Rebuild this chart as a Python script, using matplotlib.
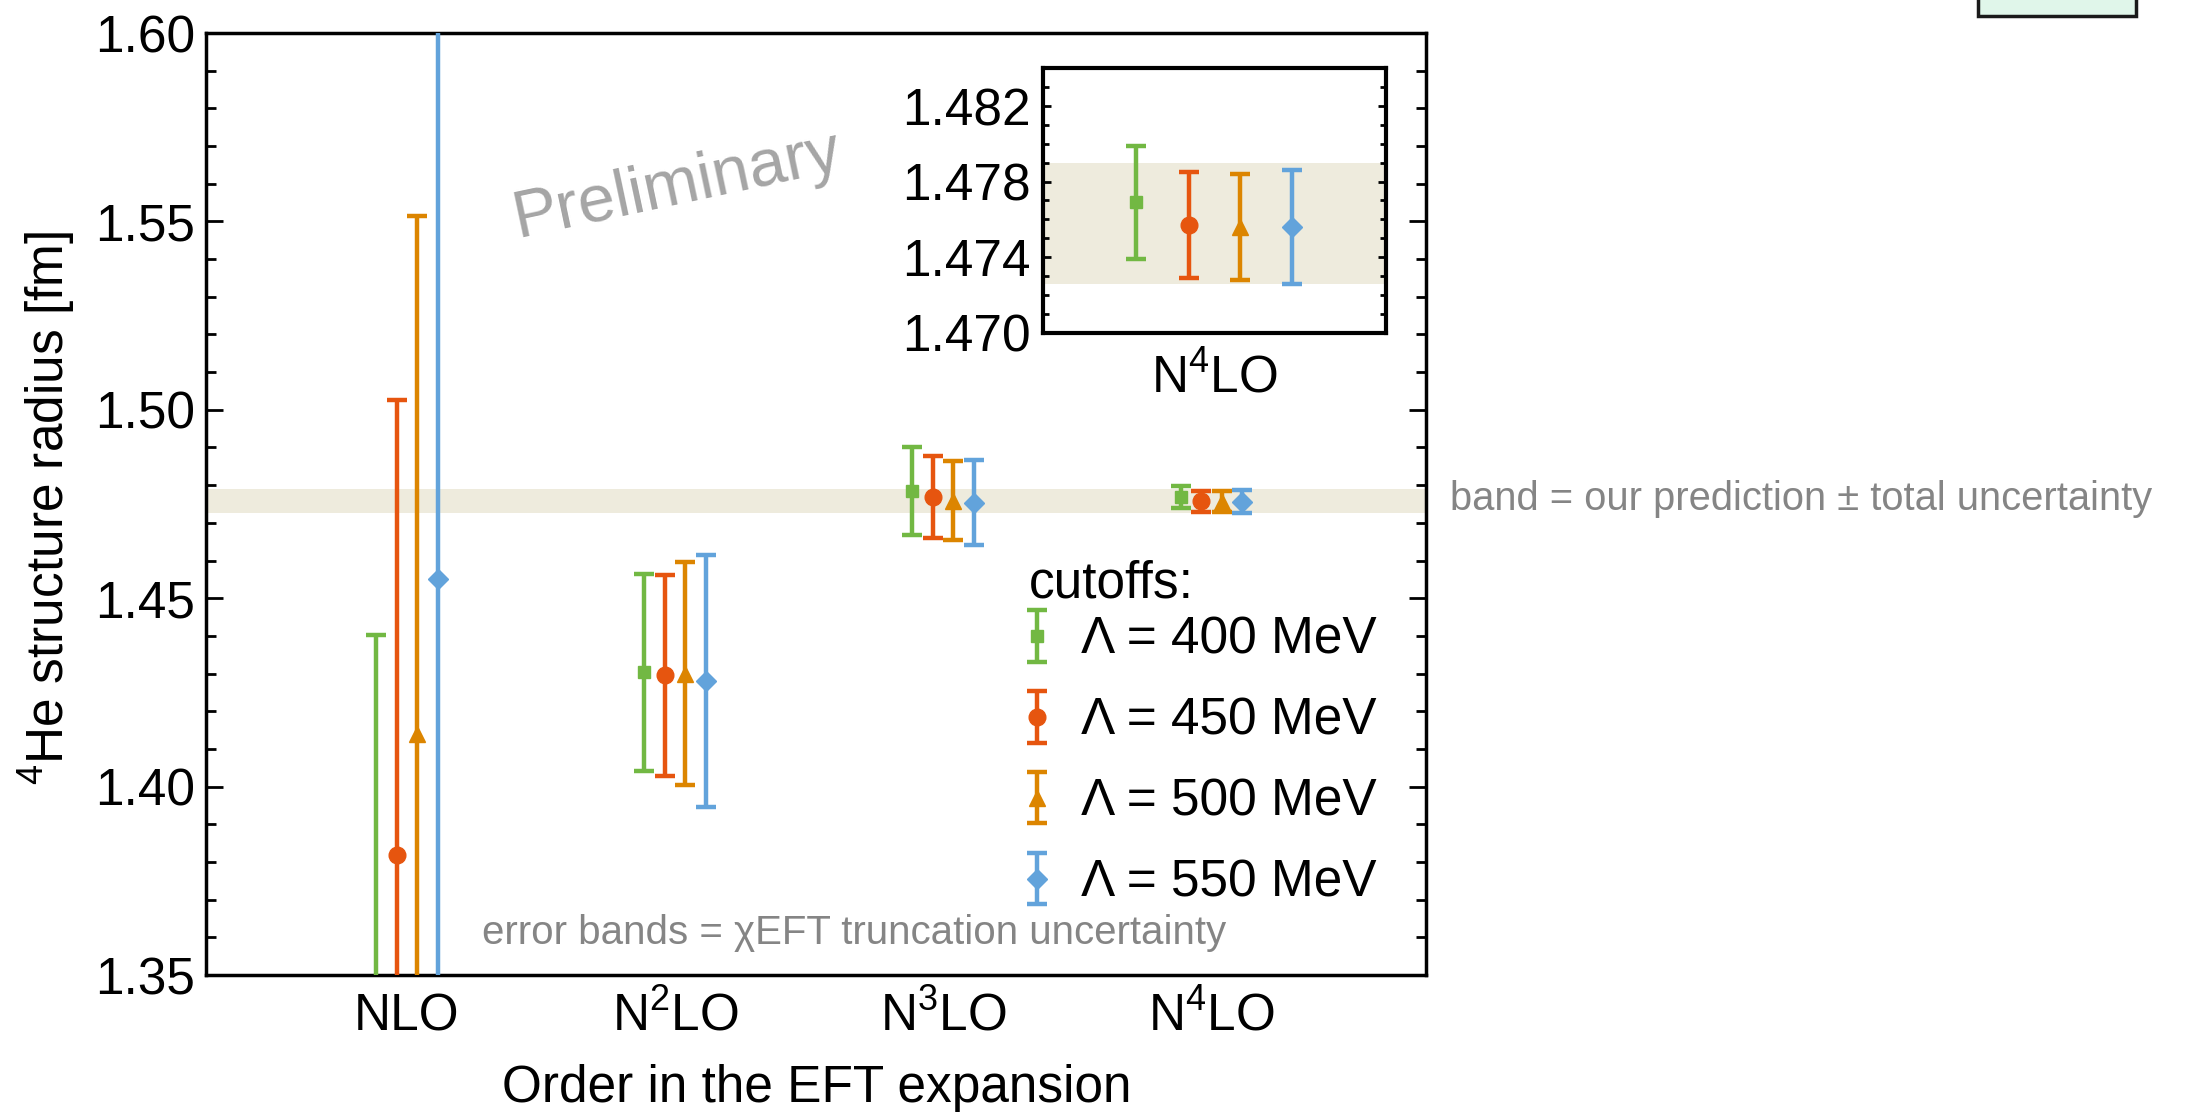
import matplotlib
matplotlib.use("Agg")
import matplotlib.pyplot as plt
from matplotlib.ticker import MultipleLocator, FixedLocator, FormatStrFormatter
from matplotlib.patches import Rectangle

plt.rcParams['font.family'] = ['Liberation Sans', 'DejaVu Sans']
plt.rcParams['mathtext.default'] = 'regular'

# orders of the EFT expansion
orders = ["NLO", "N$^2$LO", "N$^3$LO", "N$^4$LO"]
order_pos = [1, 2, 3, 4]

# radius values and truncation errors per cutoff
cutoff_labels = ["Λ = 400 MeV", "Λ = 450 MeV", "Λ = 500 MeV", "Λ = 550 MeV"]
r400 = [1.3380, 1.4303, 1.4785, 1.4769]
e400 = [0.1023, 0.0262, 0.0117, 0.0030]
r450 = [1.3819, 1.4295, 1.4768, 1.4757]
e450 = [0.1207, 0.0267, 0.0109, 0.0028]
r500 = [1.4140, 1.4300, 1.4759, 1.4756]
e500 = [0.1375, 0.0296, 0.0105, 0.0028]
r550 = [1.4552, 1.4281, 1.4754, 1.4756]
e550 = [0.1600, 0.0334, 0.0114, 0.0030]

# prediction band
band_lo = 1.4726
band_hi = 1.4790

series = [(r400, e400), (r450, e450), (r500, e500), (r550, e550)]
colors = ['#72B843', '#E6550F', '#DC8500', '#62A3DB']
markers = ['s', 'o', '^', 'D']
msizes = [9, 12, 12, 10]
offsets = [-0.115, -0.038, 0.038, 0.115]
band_color = '#EEEBDD'
fs = 37

fig = plt.figure(figsize=(21.86, 11.12), dpi=100)
ax = fig.add_axes([0.0942, 0.1232, 0.5581, 0.8471])

ax.axhspan(band_lo, band_hi, color=band_color, lw=0, zorder=0)

handles = []
for (vals, errs), c, m, ms, off, lab in zip(series, colors, markers, msizes, offsets, cutoff_labels):
    xs = [p + off for p in order_pos]
    h = ax.errorbar(xs, vals, yerr=errs, fmt=m, color=c, ms=ms,
                    elinewidth=3.2, capsize=7.5, capthick=3.2, label=lab, zorder=3)
    handles.append(h)

ax.set_xlim(0.25, 4.8)
ax.set_ylim(1.35, 1.60)
ax.yaxis.set_major_locator(MultipleLocator(0.05))
ax.yaxis.set_minor_locator(MultipleLocator(0.01))
ax.yaxis.set_major_formatter(FormatStrFormatter('%.2f'))
ax.tick_params(axis='y', which='both', direction='in', left=True, right=True,
               width=2, labelsize=fs, pad=8)
ax.tick_params(axis='y', which='major', length=12)
ax.tick_params(axis='y', which='minor', length=7)
ax.set_xticks(order_pos, orders)
ax.tick_params(axis='x', length=0, labelsize=fs, pad=40)
for lbl in ax.get_xticklabels():
    lbl.set_va('baseline')
for s in ax.spines.values():
    s.set_linewidth(2.5)

ax.set_xlabel("Order in the EFT expansion", fontsize=fs)
ax.xaxis.set_label_coords(0.501, -0.094)
ax.set_ylabel("$^4$He structure radius [fm]", fontsize=fs)
ax.yaxis.set_label_coords(-0.105, 0.496)

ax.text(0.226, 0.0446, "error bands = χEFT truncation uncertainty", transform=ax.transAxes,
        fontsize=29, color='#858585', va='center', ha='left')
ax.text(0.386, 0.838, "Preliminary", transform=ax.transAxes, fontsize=48,
        color='#A5A5A5', rotation=12, ha='center', va='center')

fig.text(1450 / 2186, 1 - 499 / 1112, "band = our prediction ± total uncertainty",
         fontsize=28.7, color='#858585', va='center', ha='left')

# legend
fig.text(1029 / 2186, 1 - 597 / 1112, "cutoffs:", fontsize=fs, va='baseline', ha='left')
ax.legend(handles=handles, loc='upper left', bbox_to_anchor=(1022 / 2186, 1 - 616 / 1112),
          bbox_transform=fig.transFigure, frameon=False, fontsize=fs, borderpad=0,
          borderaxespad=0, handlelength=0.6, handletextpad=0.55, labelspacing=0.62,
          numpoints=1)

# inset zoomed on N4LO
axi = fig.add_axes([0.4771, 0.7008, 0.1569, 0.2378])
axi.axhspan(band_lo, band_hi, color=band_color, lw=0, zorder=0)
for (vals, errs), c, m, ms, off in zip(series, colors, markers, msizes, offsets):
    axi.errorbar(order_pos[3] + off, vals[3], yerr=errs[3], fmt=m, color=c, ms=ms,
                 elinewidth=3.2, capsize=7.5, capthick=3.2, zorder=3)
axi.set_xlim(3.747, 4.253)
axi.set_ylim(1.470, 1.484)
axi.yaxis.set_major_locator(FixedLocator([1.470, 1.474, 1.478, 1.482]))
axi.yaxis.set_minor_locator(MultipleLocator(0.001))
axi.yaxis.set_major_formatter(FormatStrFormatter('%.3f'))
axi.tick_params(axis='y', which='both', direction='in', left=True, right=True,
                width=2, labelsize=fs, pad=9)
axi.tick_params(axis='y', which='major', length=6)
axi.tick_params(axis='y', which='minor', length=4)
axi.set_xticks([order_pos[3]], [orders[3]])
axi.tick_params(axis='x', length=0, labelsize=fs, pad=15)
for s in axi.spines.values():
    s.set_linewidth(3)

# small box cut at the top right corner
fig.patches.append(Rectangle((1978 / 2186, 1 - 15.7 / 1112), 158 / 2186, 0.05,
                             transform=fig.transFigure, fc='#E0F6EA', ec='#1a1a1a',
                             lw=2.5, clip_on=False))

fig.savefig("out.png", dpi=100)
